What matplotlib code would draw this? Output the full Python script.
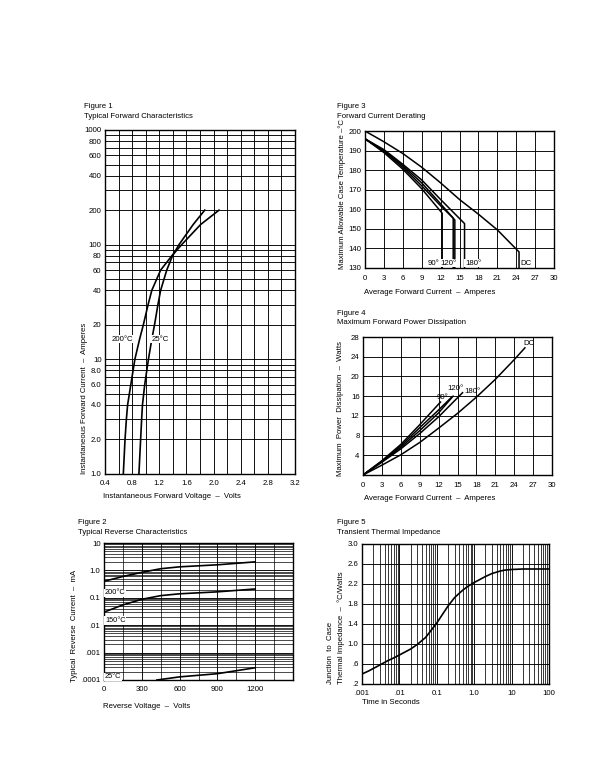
import matplotlib
matplotlib.use('Agg')
import matplotlib.pyplot as plt
from matplotlib.ticker import FixedLocator, FixedFormatter

# ---------------- DATA ----------------
# Figure 1: Typical forward characteristics (V vs I)
f1_current = [1, 2, 3, 4, 6, 10, 15, 20, 30, 40, 60, 80, 100, 150, 200]
f1_v_25C = [0.90, 0.925, 0.94, 0.952, 0.985, 1.04, 1.09, 1.13, 1.18, 1.22, 1.31, 1.395, 1.49, 1.70, 1.87]
f1_v_200C = [0.67, 0.695, 0.715, 0.733, 0.78, 0.84, 0.91, 0.965, 1.035, 1.09, 1.22, 1.385, 1.53, 1.81, 2.08]
f1_yticks = [1, 2, 4, 6, 8, 10, 20, 40, 60, 80, 100, 200, 400, 600, 800, 1000]
f1_ylabels = ["1.0", "2.0", "4.0", "6.0", "8.0", "10", "20", "40", "60", "80",
              "100", "200", "400", "600", "800", "1000"]
f1_xticks = [0.4, 0.8, 1.2, 1.6, 2.0, 2.4, 2.8, 3.2]
f1_xlabels = ["0.4", "0.8", "1.2", "1.6", "2.0", "2.4", "2.8", "3.2"]

# Figure 2: Typical reverse characteristics
f2_v_200C = [0, 150, 300, 450, 600, 900, 1200]
f2_i_200C = [0.40, 0.60, 0.85, 1.15, 1.35, 1.60, 2.05]
f2_v_150C = [0, 150, 300, 450, 600, 900, 1200]
f2_i_150C = [0.030, 0.055, 0.088, 0.12, 0.14, 0.165, 0.21]
f2_v_25C = [420, 600, 900, 1200]
f2_i_25C = [0.0001, 0.00013, 0.00017, 0.00028]
f2_xticks = [0, 300, 600, 900, 1200]
f2_yticks = [0.0001, 0.001, 0.01, 0.1, 1.0, 10]
f2_ylabels = [".0001", ".001", ".01", "0.1", "1.0", "10"]

# Figure 3: Forward current derating
f3_dc_i = [0, 3, 6, 9, 12, 15, 18, 21, 24.45]
f3_dc_t = [200, 194.5, 188.5, 181.5, 173.5, 165.0, 157.5, 149.5, 138.2]
f3_90_i = [0, 3, 6, 9, 12.25]
f3_90_t = [196, 189.0, 180.5, 170.5, 158.0]
f3_b_i = [0, 3, 6, 9, 12, 14.0]
f3_b_t = [196, 189.5, 181.5, 172.0, 161.8, 155.5]
f3_120_i = [0, 3, 6, 9, 12, 14.26]
f3_120_t = [196, 190.0, 182.3, 173.5, 162.8, 154.5]
f3_180_i = [0, 3, 6, 9, 12, 15.8]
f3_180_t = [196, 190.5, 183.0, 175.0, 165.0, 152.7]

# Figure 4: Maximum forward power dissipation
f4_dc_i = [0, 3, 6, 9, 12, 15, 18, 21, 24, 25.7]
f4_dc_p = [0, 2.0, 4.1, 6.6, 9.5, 12.5, 15.8, 19.4, 23.4, 25.8]
f4_90_i = [0, 3, 6, 9, 12.3]
f4_90_p = [0, 2.9, 6.2, 10.2, 14.8]
f4_b_i = [0, 3, 6, 9, 12, 14.0]
f4_b_p = [0, 2.8, 5.9, 9.6, 13.2, 15.7]
f4_120_i = [0, 3, 6, 9, 12, 14.3]
f4_120_p = [0, 2.7, 5.6, 9.0, 12.6, 16.0]
f4_180_i = [0, 3, 6, 9, 12, 15.8]
f4_180_p = [0, 2.6, 5.3, 8.4, 11.8, 16.7]

# Figure 5: Transient thermal impedance
f5_t = [0.001, 0.0015, 0.002, 0.003, 0.005, 0.007, 0.01, 0.015, 0.02, 0.03,
        0.05, 0.07, 0.1, 0.15, 0.2, 0.3, 0.5, 0.7, 1.0, 1.5, 2, 3, 5, 7,
        10, 20, 50, 100]
f5_z = [0.40, 0.46, 0.51, 0.58, 0.67, 0.72, 0.78, 0.85, 0.90, 0.99,
        1.13, 1.27, 1.42, 1.62, 1.76, 1.93, 2.08, 2.16, 2.23, 2.30, 2.35, 2.41, 2.46, 2.48,
        2.49, 2.50, 2.50, 2.50]
f5_xticks = [0.001, 0.01, 0.1, 1.0, 10, 100]
f5_xlabels = [".001", ".01", "0.1", "1.0", "10", "100"]
f5_yticks = [0.2, 0.6, 1.0, 1.4, 1.8, 2.2, 2.6, 3.0]
f5_ylabels = [".2", ".6", "1.0", "1.4", "1.8", "2.2", "2.6", "3.0"]

# ---------------- FIGURE ----------------
plt.rcParams['font.family'] = ['Liberation Sans', 'DejaVu Sans']
W, H = 610, 779
FS = 5.6
LW_GRID = 0.65
LW_CURVE = 1.2
fig = plt.figure(figsize=(W / 100, H / 100), dpi=100)
fig.patch.set_facecolor('white')


def add_ax(l, r, t, b):
    return fig.add_axes([l / W, 1 - b / H, (r - l) / W, (b - t) / H])


def ftext(x, y, s, **kw):
    fig.text(x / W, 1 - y / H, s, fontsize=FS, **kw)


def style(ax, xpad=4, ypad=2.5, minor_lw=LW_GRID):
    ax.tick_params(which='both', length=0, labelsize=FS)
    ax.tick_params(axis='x', pad=xpad)
    ax.tick_params(axis='y', pad=ypad)
    ax.grid(which='major', color='black', lw=LW_GRID)
    ax.grid(which='minor', color='black', lw=minor_lw)
    ax.set_axisbelow(True)
    for s in ax.spines.values():
        s.set_linewidth(1.0)


def minor_log(lo_exp, hi_exp):
    vals = []
    for e in range(lo_exp, hi_exp):
        for k in range(2, 10):
            vals.append(k * 10.0 ** e)
    return vals


lab_bbox = dict(facecolor='white', edgecolor='none', pad=0.6)

# ---- Figure 1 ----
ax1 = add_ax(105, 295, 130, 474)
ax1.set_yscale('log')
ax1.set_xlim(0.4, 3.2)
ax1.set_ylim(1, 1000)
ax1.yaxis.set_major_locator(FixedLocator(f1_yticks))
ax1.yaxis.set_major_formatter(FixedFormatter(f1_ylabels))
ax1.yaxis.set_minor_locator(FixedLocator(minor_log(0, 3)))
ax1.yaxis.set_minor_formatter(FixedFormatter([""] * 24))
ax1.xaxis.set_major_locator(FixedLocator(f1_xticks))
ax1.xaxis.set_major_formatter(FixedFormatter(f1_xlabels))
ax1.xaxis.set_minor_locator(FixedLocator([0.6 + 0.4 * i for i in range(7)]))
style(ax1)
ax1.plot(f1_v_25C, f1_current, color='black', lw=LW_CURVE)
ax1.plot(f1_v_200C, f1_current, color='black', lw=LW_CURVE)
ax1.text(0.65, 15, "200°C", fontsize=FS, ha='center', va='center', bbox=lab_bbox)
ax1.text(1.21, 15, "25°C", fontsize=FS, ha='center', va='center', bbox=lab_bbox)
ftext(84, 106, "Figure 1", va='center')
ftext(84, 116, "Typical Forward Characteristics", va='center')
ftext(103, 497, "Instantaneous Forward Voltage  –  Volts", va='center')
ftext(84, 474, "Instantaneous Forward Current  –  Amperes", rotation=90,
      ha='center', va='bottom')

# ---- Figure 2 ----
ax2 = add_ax(104, 293, 543, 680)
ax2.set_yscale('log')
ax2.set_xlim(0, 1500)
ax2.set_ylim(0.0001, 10)
ax2.yaxis.set_major_locator(FixedLocator(f2_yticks))
ax2.yaxis.set_major_formatter(FixedFormatter(f2_ylabels))
ax2.yaxis.set_minor_locator(FixedLocator(minor_log(-4, 1)))
ax2.yaxis.set_minor_formatter(FixedFormatter([""] * 40))
ax2.xaxis.set_major_locator(FixedLocator(f2_xticks))
ax2.xaxis.set_minor_locator(FixedLocator([150, 450, 750, 1050, 1350]))
style(ax2, minor_lw=0.5)
ax2.plot(f2_v_200C, f2_i_200C, color='black', lw=LW_CURVE)
ax2.plot(f2_v_150C, f2_i_150C, color='black', lw=LW_CURVE)
ax2.plot(f2_v_25C, f2_i_25C, color='black', lw=LW_CURVE)
ax2.text(8, 0.15, "200°C", fontsize=FS - 0.3, ha='left', va='center', bbox=lab_bbox)
ax2.text(8, 0.0145, "150°C", fontsize=FS - 0.3, ha='left', va='center', bbox=lab_bbox)
ax2.text(8, 0.00013, "25°C", fontsize=FS - 0.3, ha='left', va='center', bbox=lab_bbox)
ftext(78, 522, "Figure 2", va='center')
ftext(78, 532, "Typical Reverse Characteristics", va='center')
ftext(103, 706, "Reverse Voltage  –  Volts", va='center')
ftext(74, 682, "Typical  Reverse  Current  –  mA", rotation=90,
      ha='center', va='bottom')

# ---- Figure 3 ----
ax3 = add_ax(365, 554, 131, 268)
ax3.set_xlim(0, 30)
ax3.set_ylim(130, 200)
ax3.set_xticks(list(range(0, 31, 3)))
ax3.set_yticks(list(range(130, 201, 10)))
style(ax3, xpad=5)
for xs, ys in [(f3_dc_i, f3_dc_t), (f3_90_i, f3_90_t), (f3_b_i, f3_b_t),
               (f3_120_i, f3_120_t), (f3_180_i, f3_180_t)]:
    ax3.plot(xs + [xs[-1]], ys + [130], color='black', lw=LW_CURVE - 0.1)
ax3.text(10.8, 132.5, "90°", fontsize=FS, ha='center', va='center', bbox=lab_bbox)
ax3.text(13.2, 132.5, "120°", fontsize=FS, ha='center', va='center', bbox=lab_bbox)
ax3.text(17.2, 132.5, "180°", fontsize=FS, ha='center', va='center', bbox=lab_bbox)
ax3.text(25.6, 132.5, "DC", fontsize=FS, ha='center', va='center', bbox=lab_bbox)
ftext(337, 106, "Figure 3", va='center')
ftext(337, 116, "Forward Current Derating", va='center')
ftext(364, 292, "Average Forward Current  –  Amperes", va='center')
ftext(342, 269, "Maximum Allowable Case Temperature –°C", rotation=90,
      ha='center', va='bottom')

# ---- Figure 4 ----
ax4 = add_ax(363, 552, 337, 475)
ax4.set_xlim(0, 30)
ax4.set_ylim(0, 28)
ax4.set_xticks(list(range(0, 31, 3)))
ax4.yaxis.set_major_locator(FixedLocator(list(range(0, 29, 4))))
ax4.yaxis.set_major_formatter(FixedFormatter([""] + [str(v) for v in range(4, 29, 4)]))
style(ax4, xpad=5)
for xs, ys in [(f4_dc_i, f4_dc_p), (f4_90_i, f4_90_p), (f4_b_i, f4_b_p),
               (f4_120_i, f4_120_p), (f4_180_i, f4_180_p)]:
    ax4.plot(xs, ys, color='black', lw=LW_CURVE - 0.1)
ax4.text(26.3, 26.6, "DC", fontsize=FS, ha='center', va='center')
ax4.text(12.6, 15.7, "90°", fontsize=FS, ha='center', va='center')
ax4.text(14.6, 17.5, "120°", fontsize=FS, ha='center', va='center')
ax4.text(17.3, 16.9, "180°", fontsize=FS, ha='center', va='center')
ftext(337, 313, "Figure 4", va='center')
ftext(337, 323, "Maximum Forward Power Dissipation", va='center')
ftext(364, 498, "Average Forward Current  –  Amperes", va='center')
ftext(341, 476, "Maximum  Power  Dissipation  –  Watts", rotation=90,
      ha='center', va='bottom')

# ---- Figure 5 ----
ax5 = add_ax(362, 549, 544, 684)
ax5.set_xscale('log')
ax5.set_xlim(0.001, 100)
ax5.set_ylim(0.2, 3.0)
ax5.xaxis.set_major_locator(FixedLocator(f5_xticks))
ax5.xaxis.set_major_formatter(FixedFormatter(f5_xlabels))
ax5.xaxis.set_minor_locator(FixedLocator(minor_log(-3, 2)))
ax5.xaxis.set_minor_formatter(FixedFormatter([""] * 40))
ax5.yaxis.set_major_locator(FixedLocator(f5_yticks))
ax5.yaxis.set_major_formatter(FixedFormatter(f5_ylabels))
style(ax5, minor_lw=0.55)
ax5.plot(f5_t, f5_z, color='black', lw=LW_CURVE)
ftext(337, 522, "Figure 5", va='center')
ftext(337, 532, "Transient Thermal Impedance", va='center')
ftext(362, 703, "Time in Seconds", va='center')
ftext(330, 684, "Junction  to  Case", rotation=90, ha='center', va='bottom')
ftext(341, 684, "Thermal Impedance  –  °C/Watts", rotation=90, ha='center', va='bottom')

fig.savefig('out.png', dpi=100, facecolor='white')
